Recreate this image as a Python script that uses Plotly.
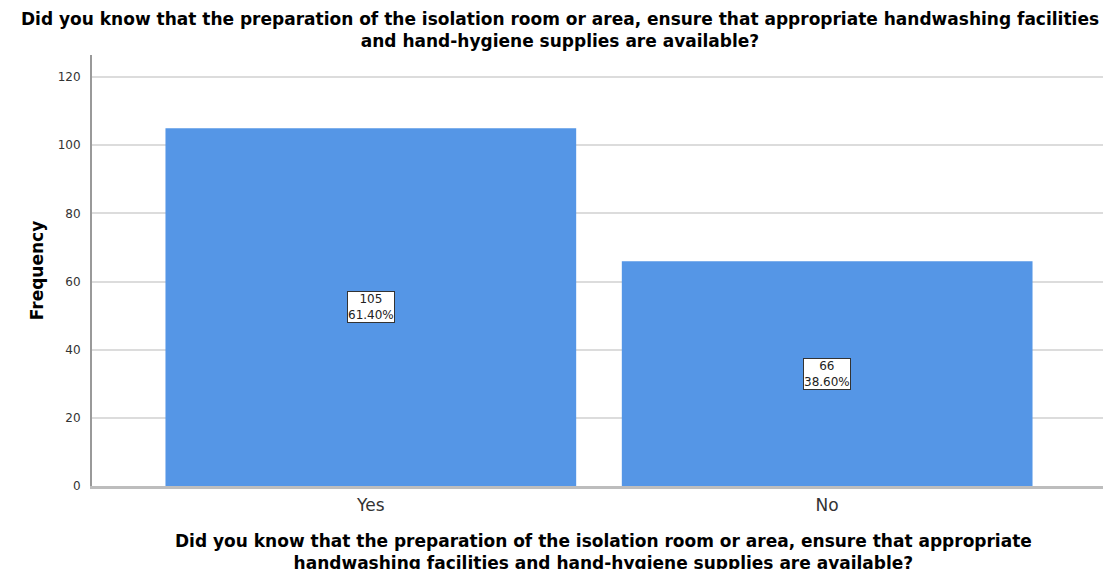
import plotly.graph_objects as go

categories = ["Yes", "No"]
frequencies = [105, 66]
percent_labels = ["61.40%", "38.60%"]

title_text = ("Did you know that the preparation of the isolation room or area, ensure that appropriate handwashing facilities"
              "<br>and hand-hygiene supplies are available?")
xtitle_text = ("Did you know that the preparation of the isolation room or area, ensure that appropriate"
               "<br>handwashing facilities and hand-hygiene supplies are available?")

FONT = "DejaVu Sans, Arial, sans-serif"

fig = go.Figure()
fig.add_trace(go.Bar(
    x=categories, y=frequencies, width=0.9,
    marker=dict(color="#5596e6", line=dict(width=0)),
    hoverinfo="skip",
))

for c, f, p in zip(categories, frequencies, percent_labels):
    fig.add_annotation(
        x=c, y=f / 2, xref="x", yref="y",
        text=f"{f}<br>{p}", showarrow=False,
        font=dict(family=FONT, size=12, color="#222222"),
        bgcolor="white", bordercolor="#333333", borderwidth=1, borderpad=0,
    )

fig.add_annotation(
    x=0.4615, y=1.0, xref="paper", yref="paper", yanchor="bottom", yshift=2,
    text=f"<b>{title_text}</b>", showarrow=False,
    font=dict(family=FONT, size=17, color="black"),
)
fig.add_annotation(
    x=0.504, y=0, xref="paper", yref="paper", yanchor="top", yshift=-43,
    text=f"<b>{xtitle_text}</b>", showarrow=False,
    font=dict(family=FONT, size=17, color="black"),
)

fig.update_layout(
    width=1103, height=561,
    margin=dict(l=84, r=5, t=47, b=83),
    paper_bgcolor="white", plot_bgcolor="white",
    showlegend=False,
    bargap=0.1,
    xaxis=dict(
        range=[-0.611, 1.611], showgrid=False, zeroline=False,
        showline=True, linecolor="#bdbdbd", linewidth=3,
        ticks="", tickfont=dict(family=FONT, size=17, color="#333333"),
        ticklabelstandoff=2,
    ),
    yaxis=dict(
        range=[0, 126.5], tickvals=[0, 20, 40, 60, 80, 100, 120],
        showgrid=True, gridcolor="#dcdcdc", gridwidth=2, zeroline=False,
        showline=True, linecolor="#999999", linewidth=2,
        ticks="", tickfont=dict(family=FONT, size=12, color="#333333"),
        ticklabelstandoff=7,
        title=dict(text="<b>Frequency</b>", font=dict(family=FONT, size=17, color="black"), standoff=10),
    ),
)

fig.write_html("out.html")
